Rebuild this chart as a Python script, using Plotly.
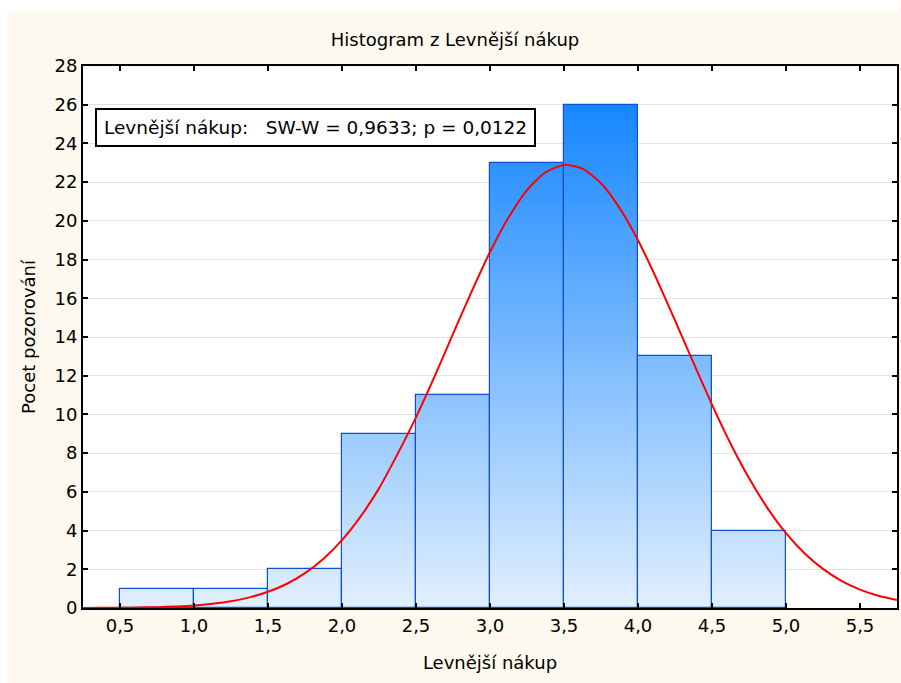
import plotly.graph_objects as go

# ---- data ----
bin_left = [0.5, 1.0, 1.5, 2.0, 2.5, 3.0, 3.5, 4.0, 4.5]
bin_width = 0.5
counts = [1, 1, 2, 9, 11, 23, 26, 13, 4]

# fitted normal curve
curve_x = [0.25, 0.375, 0.5, 0.625, 0.75, 0.875, 1.0, 1.125, 1.25, 1.375, 1.5, 1.625,
           1.75, 1.875, 2.0, 2.125, 2.25, 2.375, 2.5, 2.625, 2.75, 2.875, 3.0, 3.125,
           3.25, 3.375, 3.5, 3.625, 3.75, 3.875, 4.0, 4.125, 4.25, 4.375, 4.5, 4.625,
           4.75, 4.875, 5.0, 5.125, 5.25, 5.375, 5.5, 5.625, 5.75]
curve_y = [0.004, 0.008, 0.014, 0.025, 0.045, 0.08, 0.13, 0.22, 0.35, 0.55, 0.84, 1.24,
           1.80, 2.55, 3.51, 4.72, 6.18, 7.95, 9.85, 11.95, 14.16, 16.33, 18.39, 20.17,
           21.59, 22.51, 22.89, 22.70, 21.94, 20.67, 19.0, 17.01, 14.86, 12.66, 10.51, 8.50,
           6.71, 5.16, 3.87, 2.83, 2.02, 1.40, 0.95, 0.63, 0.41]

y_ticks = list(range(0, 29, 2))
x_tick_vals = [0.5, 1.0, 1.5, 2.0, 2.5, 3.0, 3.5, 4.0, 4.5, 5.0, 5.5]
x_tick_text = ["0,5", "1,0", "1,5", "2,0", "2,5", "3,0", "3,5", "4,0", "4,5", "5,0", "5,5"]

title_text = "Histogram z Levnější nákup"
x_title = "Levnější nákup"
y_title = "Pocet pozorování"
stat_text = "Levnější nákup:\u00a0\u00a0\u00a0SW-W = 0,9633; p = 0,0122"

# ---- styling ----
FONT = "DejaVu Sans"
c_low = (226, 240, 254)
c_high = (22, 134, 255)
grad_top = 26.0
step = 0.25


def grad_color(v):
    t = max(0.0, min(1.0, v / grad_top))
    r = round(c_low[0] + (c_high[0] - c_low[0]) * t)
    g = round(c_low[1] + (c_high[1] - c_low[1]) * t)
    b = round(c_low[2] + (c_high[2] - c_low[2]) * t)
    return f"rgb({r},{g},{b})"


centers = [b + bin_width / 2 for b in bin_left]

# gradient fill built from overlapping bar segments (each from its level up to the bar top)
seg_x, seg_base, seg_h, seg_col = [], [], [], []
for cx, c in zip(centers, counts):
    lvl = 0.0
    while lvl < c - 1e-9:
        seg_x.append(cx)
        seg_base.append(lvl)
        seg_h.append(c - lvl)
        seg_col.append(grad_color(lvl + step / 2))
        lvl += step

fig = go.Figure()
fig.add_trace(go.Bar(
    x=seg_x, y=seg_h, base=seg_base, width=bin_width,
    marker=dict(color=seg_col, line=dict(width=0)),
    hoverinfo="skip", showlegend=False,
))
fig.add_trace(go.Bar(
    x=centers, y=counts, width=bin_width,
    marker=dict(color="rgba(0,0,0,0)", line=dict(color="#1050d0", width=1.2)),
    showlegend=False,
))
fig.add_trace(go.Scatter(
    x=curve_x, y=curve_y, mode="lines",
    line=dict(color="#ff0000", width=2, shape="spline", smoothing=0.6),
    showlegend=False, hoverinfo="skip",
))

W, H = 901, 683
ml, mr, mt, mb = 83, 2, 66, 75
pw, ph = W - ml - mr, H - mt - mb

shapes = [
    # white strip above the cream panel
    dict(type="rect", xref="paper", yref="paper", layer="below",
         x0=-ml / pw, x1=1 + mr / pw, y0=1 + (mt - 12) / ph, y1=1 + mt / ph,
         fillcolor="white", line=dict(width=0)),
    # white strip left of the cream panel
    dict(type="rect", xref="paper", yref="paper", layer="below",
         x0=-ml / pw, x1=-(ml - 7) / pw, y0=-mb / ph, y1=1 + mt / ph,
         fillcolor="white", line=dict(width=0)),
]

fig.update_layout(
    width=W, height=H,
    margin=dict(l=ml, r=mr, t=mt, b=mb),
    paper_bgcolor="#fdf9ee",
    plot_bgcolor="white",
    barmode="overlay", bargap=0,
    font=dict(family=FONT, size=18, color="black"),
    title=dict(text=title_text, x=0.505, xanchor="center", y=1 - 40 / H, yanchor="middle",
               font=dict(family=FONT, size=18, color="black")),
    shapes=shapes,
    xaxis=dict(
        range=[0.25, 5.75], tickvals=x_tick_vals, ticktext=x_tick_text,
        showgrid=False, zeroline=False,
        showline=True, linecolor="black", linewidth=2, mirror="ticks",
        ticks="inside", ticklen=5, tickwidth=2, tickcolor="black",
        tickfont=dict(family=FONT, size=18),
        title=dict(text=x_title, standoff=22, font=dict(family=FONT, size=18)),
    ),
    yaxis=dict(
        range=[0, 28], tickvals=y_ticks,
        showgrid=True, gridcolor="#e2e2e2", gridwidth=1, zeroline=False,
        showline=True, linecolor="black", linewidth=2, mirror="ticks",
        ticks="inside", ticklen=5, tickwidth=2, tickcolor="black",
        tickfont=dict(family=FONT, size=18),
        title=dict(text=y_title, standoff=14, font=dict(family=FONT, size=18)),
    ),
    annotations=[dict(
        text=stat_text, xref="paper", yref="paper",
        x=12 / pw, xanchor="left", y=(608 - 127.5) / ph, yanchor="middle",
        showarrow=False, bgcolor="white", bordercolor="black", borderwidth=2, borderpad=7,
        font=dict(family=FONT, size=18.5, color="black"),
    )],
)

fig.write_html(
    "out.html",
    config={"displayModeBar": False},
    post_script="document.body.style.margin='0px';document.body.style.overflow='hidden';",
)
